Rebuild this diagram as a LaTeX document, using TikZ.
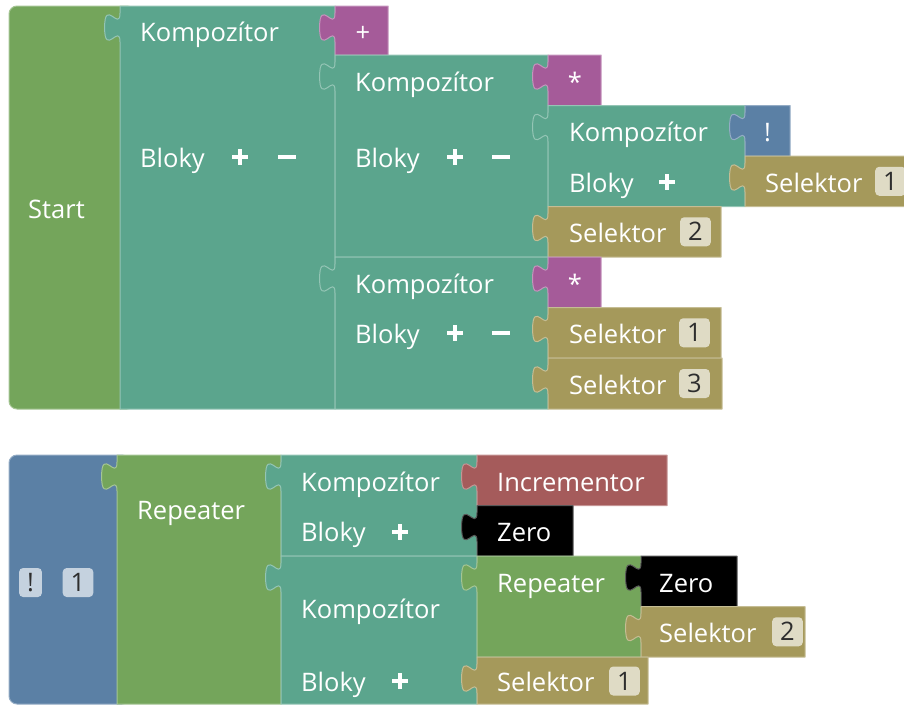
\documentclass[tikz,border=0pt]{standalone}
\usepackage{fontspec}
\setmainfont{Open Sans}
\definecolor{cgreen}{HTML}{74A55B}
\definecolor{cteal}{HTML}{5BA58D}
\definecolor{cpurple}{HTML}{A55B99}
\definecolor{cblue}{HTML}{5B80A5}
\definecolor{colive}{HTML}{A5995B}
\definecolor{cred}{HTML}{A55B5B}
\definecolor{cblack}{HTML}{000000}
\definecolor{badgetext}{HTML}{2E2E2E}

% value block with an output tab on its left edge: colour, x1, y1, x2, y2
\newcommand{\puzzleblock}[5]{%
  \filldraw[blockfill=#1]
    (#2,#3) -- (#4,#3) -- (#4,#5) -- (#2,#5) -- (#2,#3+36)
    .. controls (#2,#3+16.7) and (#2-15.4,#3+51.4) .. (#2-15.4,#3+21.5)
    .. controls (#2-15.4,#3-8.4) and (#2,#3+26.3) .. (#2,#3+7) -- cycle;
}
% top-level block with rounded left corners: colour, x1, y1, x2, y2
\newcommand{\rootblock}[5]{%
  \filldraw[blockfill=#1, rounded corners=8pt] (#2,#3) rectangle (#4,#5);
}
% plus and minus icons: centre x, centre y
\newcommand{\plusicon}[2]{\draw[iconline] (#1-8,#2) -- (#1+8,#2) (#1,#2-8) -- (#1,#2+8);}
\newcommand{\minusicon}[2]{\draw[iconline] (#1-9,#2) -- (#1+9,#2);}

\begin{document}
\begin{tikzpicture}[x=1pt, y=-1pt,
  blockfill/.style={fill=#1, draw=#1!65!white, line width=1pt, line join=round},
  lbl/.style={text=white, anchor=base west, inner sep=0pt, font=\fontsize{25.5}{30}\selectfont},
  sym/.style={lbl, anchor=base},
  badge/.style={fill=white, fill opacity=0.65, text opacity=1, text=badgetext,
    rounded corners=4pt, inner xsep=8pt, inner ysep=0pt, minimum height=29pt,
    font=\fontsize{25.5}{30}\selectfont},
  iconline/.style={draw=white, line width=4.5pt}]
\useasboundingbox (0,0) rectangle (904,705);

% ---------- first program ----------
\rootblock{cgreen}{9}{6}{135}{409}
\puzzleblock{cteal}{120}{6}{335}{409}
\puzzleblock{cpurple}{335}{6}{388}{55}
\puzzleblock{cteal}{335}{55}{548}{257}
\puzzleblock{cpurple}{548}{55}{601}{105.5}
\puzzleblock{cteal}{548}{105.5}{745}{206.5}
\puzzleblock{cblue}{745}{105.5}{790}{156}
\puzzleblock{colive}{745}{156}{906}{206.5}
\puzzleblock{colive}{548}{206.5}{721}{257}
\puzzleblock{cteal}{335}{257}{548}{409}
\puzzleblock{cpurple}{548}{257}{601}{307.5}
\puzzleblock{colive}{548}{307.5}{721}{358}
\puzzleblock{colive}{548}{358}{722}{409}

\node[lbl] (start) at (28,218) {Start};
\node[lbl] (kA) at (140,41.5) {Kompozítor};
\node[sym] (opPlus) at (363,41.5) {+};
\node[lbl] (bA) at (140,167) {Bloky};
\plusicon{240}{157}\minusicon{287}{157}
\node[lbl] (kB) at (355,91.25) {Kompozítor};
\node[lbl] (bB) at (355,167) {Bloky};
\plusicon{455}{157}\minusicon{501}{157}
\node[sym] (opStarA) at (575,91.25) {*};
\node[lbl] (kC) at (569,141.75) {Kompozítor};
\node[lbl] (bC) at (569,192.25) {Bloky};
\plusicon{667}{182}
\node[sym] (opBang) at (767.5,141.75) {!};
\node[lbl] (sA) at (765,192.25) {Selektor};
\node[badge, anchor=west] (sAn) at (875,181.25) {1};
\node[lbl] (sB) at (569,242.75) {Selektor};
\node[badge, anchor=west] (sBn) at (680,231.75) {2};
\node[lbl] (kD) at (355,293.25) {Kompozítor};
\node[sym] (opStarB) at (575,293.25) {*};
\node[lbl] (bD) at (355,343.75) {Bloky};
\plusicon{455}{333}\minusicon{501}{333}
\node[lbl] (sC) at (569,343.75) {Selektor};
\node[badge, anchor=west] (sCn) at (679,332.75) {1};
\node[lbl] (sD) at (569,394.5) {Selektor};
\node[badge, anchor=west] (sDn) at (679,383.5) {3};

% ---------- second program ----------
\rootblock{cblue}{9}{455}{130}{704}
\puzzleblock{cgreen}{117}{455}{281}{704}
\puzzleblock{cteal}{281}{455}{477}{556}
\puzzleblock{cred}{477}{455}{667}{505.5}
\puzzleblock{cblack}{477}{505.5}{573}{556}
\puzzleblock{cteal}{281}{556}{477}{704}
\puzzleblock{cgreen}{477}{556}{641}{657}
\puzzleblock{cblack}{641}{556}{737}{606.5}
\puzzleblock{colive}{641}{606.5}{805}{657}
\puzzleblock{colive}{477}{657}{648}{704}

\node[badge] (bang) at (30.5,582.5) {!};
\node[badge] (one) at (78,582.5) {1};
\node[lbl] (rA) at (137,519) {Repeater};
\node[lbl] (kE) at (301,491.25) {Kompozítor};
\node[lbl] (bE) at (301,541.75) {Bloky};
\plusicon{400}{531.75}
\node[lbl] (inc) at (497,491.25) {Incrementor};
\node[lbl] (zA) at (497,541.75) {Zero};
\node[lbl] (kF) at (301,618) {Kompozítor};
\node[lbl] (bF) at (301,691) {Bloky};
\plusicon{400}{681}
\node[lbl] (rB) at (497,592.25) {Repeater};
\node[lbl] (zB) at (659,592.25) {Zero};
\node[lbl] (sE) at (659,642.75) {Selektor};
\node[badge, anchor=west] (sEn) at (772,631.75) {2};
\node[lbl] (sF) at (497,691) {Selektor};
\node[badge, anchor=west] (sFn) at (609,681) {1};
\end{tikzpicture}
\end{document}
